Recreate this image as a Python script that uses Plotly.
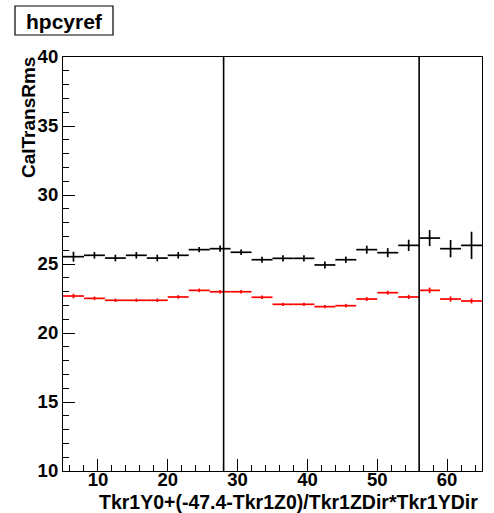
import plotly.graph_objects as go

# ---- data ----
bin_centers = [6.5, 9.5, 12.5, 15.5, 18.5, 21.5, 24.5, 27.5, 30.5, 33.5,
               36.5, 39.5, 42.5, 45.5, 48.5, 51.5, 54.5, 57.5, 60.5, 63.5]
bin_half_width = [1.5] * 20
black_vals = [25.53, 25.63, 25.43, 25.63, 25.43, 25.63, 26.04, 26.11, 25.85, 25.31,
              25.41, 25.41, 24.93, 25.31, 26.04, 25.82, 26.35, 26.88, 26.11, 26.35]
black_err = [0.36, 0.24, 0.24, 0.24, 0.24, 0.24, 0.19, 0.23, 0.20, 0.22,
             0.22, 0.22, 0.25, 0.23, 0.29, 0.33, 0.41, 0.58, 0.63, 0.99]
red_vals = [22.68, 22.51, 22.37, 22.37, 22.37, 22.61, 23.09, 22.99, 22.99, 22.59,
            22.08, 22.08, 21.91, 21.98, 22.46, 22.92, 22.61, 23.09, 22.46, 22.32]
red_err = [0.17, 0.13, 0.12, 0.12, 0.12, 0.13, 0.13, 0.13, 0.13, 0.13,
           0.12, 0.12, 0.12, 0.13, 0.14, 0.14, 0.15, 0.20, 0.19, 0.18]
vlines_x = [28, 56]
x_range = [5, 65]
y_range = [10, 40]
title_text = "hpcyref"
x_title = "Tkr1Y0+(-47.4-Tkr1Z0)/Tkr1ZDir*Tkr1YDir"
y_title = "CalTransRms"

FONT = "Liberation Sans"

fig = go.Figure()
for vals, errs, col in [(black_vals, black_err, "black"), (red_vals, red_err, "red")]:
    fig.add_trace(go.Scatter(
        x=bin_centers, y=vals, mode="markers",
        marker=dict(size=0, color=col, opacity=0),
        error_x=dict(type="data", array=bin_half_width, width=0, thickness=1.7, color=col),
        error_y=dict(type="data", array=errs, width=0, thickness=1.7, color=col),
        showlegend=False, hoverinfo="skip"))

for xv in vlines_x:
    fig.add_shape(type="line", xref="x", yref="paper", x0=xv, x1=xv, y0=0, y1=1,
                  line=dict(color="black", width=1.6))

W, H = 494, 513
L, R, T, B = 63, 12, 57, 42
pw, ph = W - L - R, H - T - B

def px(xp):
    return (xp - L) / pw

def py(yp):
    return (H - B - yp) / ph

# title box
fig.add_shape(type="rect", xref="paper", yref="paper",
              x0=px(15), x1=px(113), y0=py(35), y1=py(6),
              line=dict(color="black", width=1.2), fillcolor="white")
fig.add_annotation(text=title_text, xref="paper", yref="paper", x=px(64), y=py(21),
                   xanchor="center", yanchor="middle", showarrow=False,
                   font=dict(family=FONT, size=21, color="black", weight="bold"))
fig.add_annotation(text=y_title, xref="paper", yref="paper", x=px(28.5), y=py(55),
                   xanchor="center", yanchor="top", textangle=-90, showarrow=False,
                   font=dict(family=FONT, size=19, color="black", weight="bold"))
fig.add_annotation(text=x_title, xref="paper", yref="paper", x=px(480), y=py(502),
                   xanchor="right", yanchor="middle", showarrow=False,
                   font=dict(family=FONT, size=19.5, color="black", weight="bold"))

axis_common = dict(showgrid=False, zeroline=False, showline=True, mirror=True,
                   linecolor="black", linewidth=1.2, ticks="inside", ticklen=12,
                   tickwidth=1, tickcolor="black", automargin=False,
                   tickfont=dict(family=FONT, size=18.5, color="black", weight="bold"))
fig.update_xaxes(range=x_range, dtick=10, tick0=0, ticklabelstandoff=-8,
                 minor=dict(dtick=2, tick0=0, ticks="inside", ticklen=6, tickcolor="black"),
                 **axis_common)
fig.update_yaxes(range=y_range, dtick=5, tick0=0,
                 minor=dict(dtick=1, tick0=0, ticks="inside", ticklen=6, tickcolor="black"),
                 **axis_common)

fig.update_layout(width=W, height=H, margin=dict(l=L, r=R, t=T, b=B, pad=0, autoexpand=False),
                  plot_bgcolor="white", paper_bgcolor="white")
fig.write_html("out.html", config={"displayModeBar": False},
               post_script="document.body.style.margin='0';document.body.style.overflow='hidden';")
